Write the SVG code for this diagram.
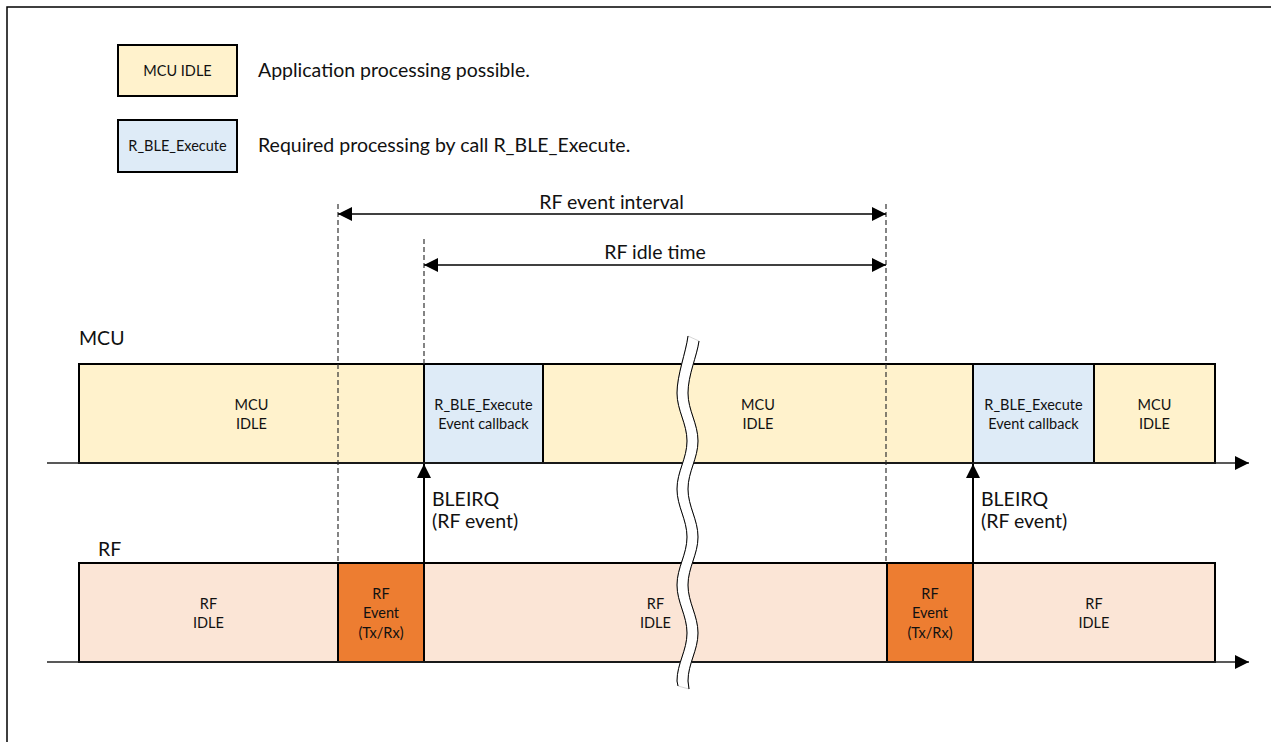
<svg xmlns="http://www.w3.org/2000/svg" width="1271" height="742" viewBox="0 0 1271 742">
  <style>
    .big { font-family: Lato, "Liberation Sans", sans-serif; font-size: 19.5px; fill: #111; }
    .sm { font-family: Lato, "Liberation Sans", sans-serif; font-size: 14.5px; fill: #111; text-anchor: middle; }
    .box { stroke: #000; stroke-width: 2; }
    .mcu { fill: #FFF2CC; }
    .ble { fill: #DEEBF7; }
    .rfi { fill: #FBE5D6; }
    .rfe { fill: #ED7D31; }
    .dash { stroke: #333; stroke-width: 1.2; stroke-dasharray: 5 3; fill: none; }
    .axis { stroke: #222; stroke-width: 1.5; fill: none; }
    .dim { stroke: #000; stroke-width: 1.3; fill: none; }
    .irq { stroke: #000; stroke-width: 2; fill: none; }
  </style>
  <defs>
    <marker id="ah" viewBox="0 0 10 10" refX="10" refY="5" markerWidth="14" markerHeight="14" markerUnits="userSpaceOnUse" orient="auto-start-reverse">
      <path d="M0,0 L10,5 L0,10 Z" fill="#000"/>
    </marker>
    <marker id="ah2" viewBox="0 0 10 10" refX="10" refY="5" markerWidth="14" markerHeight="14" markerUnits="userSpaceOnUse" orient="auto">
      <path d="M0,0 L10,5 L0,10 Z" fill="#000"/>
    </marker>
  </defs>

  <rect x="7" y="7" width="1300" height="800" fill="#fff" stroke="#000" stroke-width="1.5"/>

  <!-- Legend -->
  <g id="legend-mcu">
    <rect class="box mcu" x="118" y="45" width="119" height="51" stroke-width="1.5"/>
    <text class="sm" x="177.5" y="75.5">MCU IDLE</text>
    <text class="big" x="258" y="77">Application processing possible.</text>
  </g>
  <g id="legend-ble">
    <rect class="box ble" x="118" y="120" width="119" height="52" stroke-width="1.5"/>
    <text class="sm" x="177.5" y="151">R_BLE_Execute</text>
    <text class="big" x="258" y="152">Required processing by call R_BLE_Execute.</text>
  </g>

  <!-- Row labels -->
  <text id="label-mcu" class="big" x="79" y="345">MCU</text>
  <text id="label-rf" class="big" x="98" y="556">RF</text>

  <!-- MCU row -->
  <g id="mcu-idle-1">
    <rect class="box mcu" x="79" y="364" width="345" height="99"/>
    <text class="sm" x="251.5" y="410">MCU</text>
    <text class="sm" x="251.5" y="429">IDLE</text>
  </g>
  <g id="mcu-ble-1">
    <rect class="box ble" x="424" y="364" width="119" height="99"/>
    <text class="sm" x="483.5" y="410">R_BLE_Execute</text>
    <text class="sm" x="483.5" y="429">Event callback</text>
  </g>
  <g id="mcu-idle-2">
    <rect class="box mcu" x="543" y="364" width="430" height="99"/>
    <text class="sm" x="758" y="410">MCU</text>
    <text class="sm" x="758" y="429">IDLE</text>
  </g>
  <g id="mcu-ble-2">
    <rect class="box ble" x="973" y="364" width="121" height="99"/>
    <text class="sm" x="1033.5" y="410">R_BLE_Execute</text>
    <text class="sm" x="1033.5" y="429">Event callback</text>
  </g>
  <g id="mcu-idle-3">
    <rect class="box mcu" x="1094" y="364" width="121" height="99"/>
    <text class="sm" x="1154.5" y="410">MCU</text>
    <text class="sm" x="1154.5" y="429">IDLE</text>
  </g>

  <!-- RF row -->
  <g id="rf-idle-1">
    <rect class="box rfi" x="79" y="563" width="259" height="99"/>
    <text class="sm" x="208.5" y="609">RF</text>
    <text class="sm" x="208.5" y="628">IDLE</text>
  </g>
  <g id="rf-event-1">
    <rect class="box rfe" x="338" y="563" width="86" height="99"/>
    <text class="sm" x="381" y="599">RF</text>
    <text class="sm" x="381" y="618">Event</text>
    <text class="sm" x="381" y="637.5">(Tx/Rx)</text>
  </g>
  <g id="rf-idle-2">
    <rect class="box rfi" x="424" y="563" width="463" height="99"/>
    <text class="sm" x="655.5" y="609">RF</text>
    <text class="sm" x="655.5" y="628">IDLE</text>
  </g>
  <g id="rf-event-2">
    <rect class="box rfe" x="887" y="563" width="86" height="99"/>
    <text class="sm" x="930" y="599">RF</text>
    <text class="sm" x="930" y="618">Event</text>
    <text class="sm" x="930" y="637.5">(Tx/Rx)</text>
  </g>
  <g id="rf-idle-3">
    <rect class="box rfi" x="973" y="563" width="242" height="99"/>
    <text class="sm" x="1094" y="609">RF</text>
    <text class="sm" x="1094" y="628">IDLE</text>
  </g>

  <!-- Connectors -->
  <g id="connectors">
    <line class="dash" x1="338" y1="204" x2="338" y2="563"/>
    <line class="dash" x1="886" y1="204" x2="886" y2="563"/>
    <line class="dash" x1="424" y1="239" x2="424" y2="364"/>
    <line class="dim" x1="338" y1="214" x2="886" y2="214" marker-start="url(#ah)" marker-end="url(#ah)"/>
    <line class="dim" x1="424" y1="265" x2="886" y2="265" marker-start="url(#ah)" marker-end="url(#ah)"/>
    <line class="axis" x1="47" y1="463" x2="1249" y2="463" marker-end="url(#ah2)"/>
    <line class="axis" x1="47" y1="662" x2="1249" y2="662" marker-end="url(#ah2)"/>
    <line class="irq" x1="424" y1="562" x2="424" y2="464" marker-end="url(#ah2)"/>
    <line class="irq" x1="973" y1="562" x2="973" y2="464" marker-end="url(#ah2)"/>
  </g>

  <text class="big" x="611.5" y="209" text-anchor="middle">RF event interval</text>
  <text class="big" x="655" y="259" text-anchor="middle">RF idle time</text>
  <text class="big" x="432" y="506">BLEIRQ</text>
  <text class="big" x="432" y="528">(RF event)</text>
  <text class="big" x="981" y="506">BLEIRQ</text>
  <text class="big" x="981" y="528">(RF event)</text>

  <!-- Break mark -->
  <g id="break">
    <path d="M688,336 C686,352 677,375 677,393 C677,410.5 687,423.5 687,441 C687,458.5 677,471.5 677,489 C677,506.5 687,519.5 687,537 C687,554.5 677,567.5 677,585 C677,602.5 687,615.5 687,633 C687,650.5 677,663.5 677,681 L678,686 L689,689 L688,681 C688,663.5 698,650.5 698,633 C698,615.5 688,602.5 688,585 C688,567.5 698,554.5 698,537 C698,519.5 688,506.5 688,489 C688,471.5 698,458.5 698,441 C698,423.5 688,410.5 688,393 C688,375 697,356 699,341 Z" fill="#fff" stroke="#bbb" stroke-width="0.6"/>
    <path d="M688,336 C686,352 677,375 677,393 C677,410.5 687,423.5 687,441 C687,458.5 677,471.5 677,489 C677,506.5 687,519.5 687,537 C687,554.5 677,567.5 677,585 C677,602.5 687,615.5 687,633 C687,650.5 677,663.5 677,681 L678,686" fill="none" stroke="#000" stroke-width="1"/>
    <path d="M689,689 L688,681 C688,663.5 698,650.5 698,633 C698,615.5 688,602.5 688,585 C688,567.5 698,554.5 698,537 C698,519.5 688,506.5 688,489 C688,471.5 698,458.5 698,441 C698,423.5 688,410.5 688,393 C688,375 697,356 699,341" fill="none" stroke="#000" stroke-width="1"/>
  </g>
</svg>
